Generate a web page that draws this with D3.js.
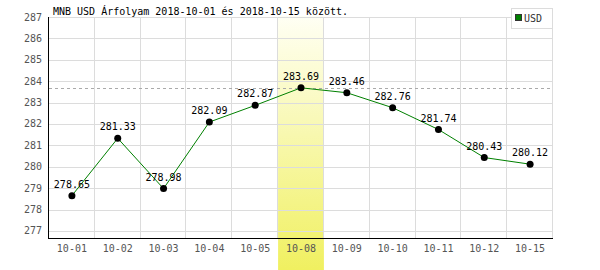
<!DOCTYPE html>
<html>
<head>
<meta charset="utf-8">
<script src="https://cdn.jsdelivr.net/npm/d3@7"></script>
<style>
  html, body { margin: 0; padding: 0; background: #fff; }
  svg { display: block; }
</style>
</head>
<body>
<div id="chart"></div>
<script>
// ---- Data ----
const dates = ['10-01', '10-02', '10-03', '10-04', '10-05', '10-08', '10-09', '10-10', '10-11', '10-12', '10-15'];
const usdRates = [278.65, 281.33, 278.98, 282.09, 282.87, 283.69, 283.46, 282.76, 281.74, 280.43, 280.12];
const yTicks = [277, 278, 279, 280, 281, 282, 283, 284, 285, 286, 287];
const seriesName = 'USD';
const title = 'MNB USD Árfolyam 2018-10-01 és 2018-10-15 között.';

(function () {
  const W = 600, H = 270;
  const plotLeft = 49, plotRight = 553, plotTop = 17, plotBottom = 238;
  const font = "'DejaVu Sans Mono', monospace";

  const svg = d3.select('#chart').append('svg')
    .attr('width', W).attr('height', H);

  const x = d3.scaleBand().domain(dates).range([plotLeft, plotRight]).padding(0);
  const y = d3.scaleLinear().domain([276.67, 287]).range([plotBottom, plotTop]);
  const cx = (d, i) => x(dates[i]) + x.bandwidth() / 2;

  const maxIdx = usdRates.indexOf(d3.max(usdRates));

  // ---- Highlight gradient for max day ----
  const defs = svg.append('defs');
  const hl = defs.append('linearGradient')
    .attr('id', 'hlGrad').attr('x1', 0).attr('y1', 0).attr('x2', 0).attr('y2', 1);
  hl.append('stop').attr('offset', '0%').attr('stop-color', '#fffff4');
  hl.append('stop').attr('offset', '100%').attr('stop-color', '#f0f060');

  svg.append('rect')
    .attr('x', x(dates[maxIdx]))
    .attr('y', y(287) - 1)
    .attr('width', x.bandwidth())
    .attr('height', H - y(287) + 1)
    .attr('fill', 'url(#hlGrad)');

  // ---- Grid ----
  const grid = svg.append('g').attr('stroke', '#dcdcdc').attr('stroke-width', 1);
  grid.selectAll('line.h').data(yTicks).join('line')
    .attr('class', 'h')
    .attr('x1', plotLeft).attr('x2', plotRight)
    .attr('y1', d => Math.round(y(d)) + 0.5).attr('y2', d => Math.round(y(d)) + 0.5);
  grid.selectAll('line.v').data(dates.slice(1).map(d => x(d)).concat([plotRight])).join('line')
    .attr('class', 'v')
    .attr('x1', d => Math.round(d) - 0.5).attr('x2', d => Math.round(d) - 0.5)
    .attr('y1', y(287)).attr('y2', plotBottom);

  // ---- Max reference line ----
  const maxY = Math.round(y(usdRates[maxIdx])) + 0.5;
  svg.append('line')
    .attr('x1', plotLeft).attr('x2', plotRight)
    .attr('y1', maxY).attr('y2', maxY)
    .attr('stroke', '#aaaaaa')
    .attr('stroke-dasharray', '3,3');

  // ---- Axes ----
  svg.append('line')
    .attr('x1', plotLeft - 0.5).attr('x2', plotLeft - 0.5)
    .attr('y1', y(287)).attr('y2', plotBottom + 1)
    .attr('stroke', '#000');
  svg.append('line')
    .attr('x1', plotLeft - 1).attr('x2', plotRight)
    .attr('y1', plotBottom + 0.5).attr('y2', plotBottom + 0.5)
    .attr('stroke', '#000');

  svg.append('g').selectAll('text').data(yTicks).join('text')
    .attr('x', 42).attr('y', d => y(d))
    .attr('text-anchor', 'end')
    .attr('dominant-baseline', 'central')
    .attr('font-family', font).attr('font-size', '10px')
    .attr('fill', '#555')
    .text(d => d);

  svg.append('g').selectAll('text').data(dates).join('text')
    .attr('x', d => x(d) + x.bandwidth() / 2).attr('y', 252)
    .attr('text-anchor', 'middle')
    .attr('font-family', font).attr('font-size', '10px')
    .attr('fill', '#555')
    .text(d => d);

  // ---- Line + points ----
  const line = d3.line().x(cx).y(d => y(d));

  svg.append('path')
    .datum(usdRates)
    .attr('d', line)
    .attr('fill', 'none')
    .attr('stroke', '#008000')
    .attr('stroke-width', 1);

  svg.append('g').selectAll('circle').data(usdRates).join('circle')
    .attr('cx', cx)
    .attr('cy', d => y(d))
    .attr('r', 3.5)
    .attr('fill', '#000');

  svg.append('g').selectAll('text').data(usdRates).join('text')
    .attr('x', cx)
    .attr('y', d => y(d) - 8)
    .attr('text-anchor', 'middle')
    .attr('font-family', font).attr('font-size', '10px')
    .attr('fill', '#000')
    .text(d => d.toFixed(2));

  // ---- Title ----
  svg.append('text')
    .attr('x', 53).attr('y', 15)
    .attr('font-family', font).attr('font-size', '10px')
    .attr('fill', '#000')
    .text(title);

  // ---- Legend ----
  const lg = svg.append('g');
  lg.append('rect')
    .attr('x', 511.5).attr('y', 8.5).attr('width', 41).attr('height', 20)
    .attr('fill', '#fff').attr('stroke', '#dcdcdc');
  lg.append('rect')
    .attr('x', 515.5).attr('y', 14.5).attr('width', 6).attr('height', 6)
    .attr('fill', '#008000').attr('stroke', '#333');
  lg.append('text')
    .attr('x', 524).attr('y', 22)
    .attr('font-family', font).attr('font-size', '10px')
    .attr('fill', '#333')
    .text(seriesName);
})();
</script>
</body>
</html>
